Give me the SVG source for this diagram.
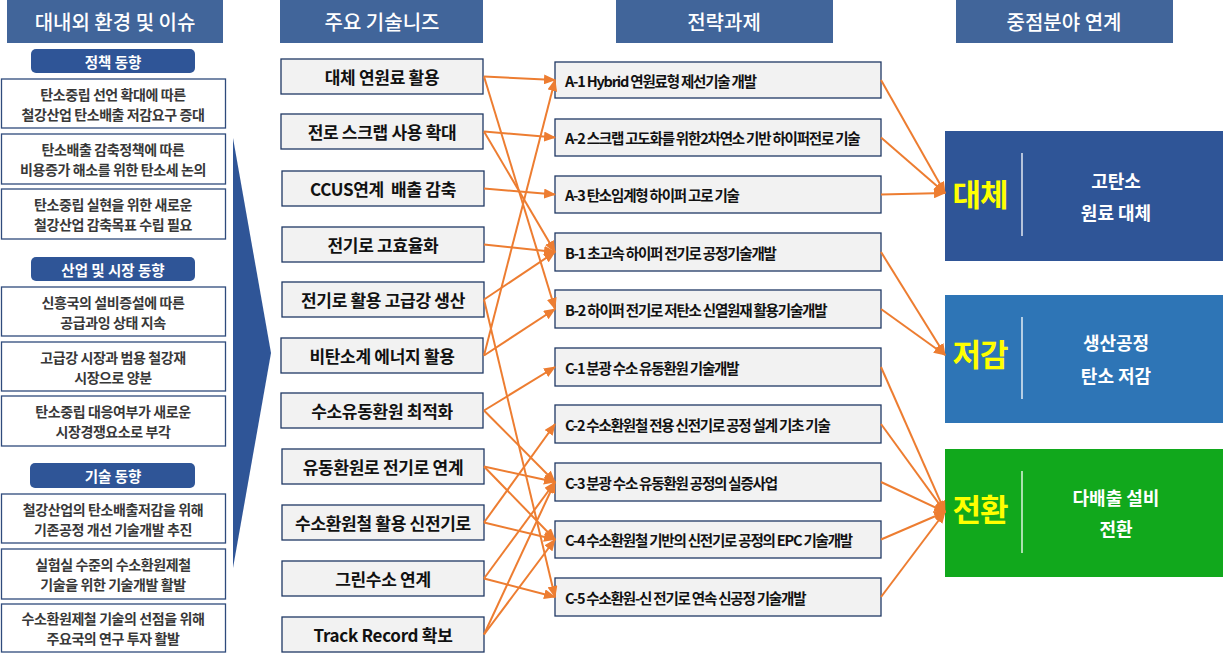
<svg xmlns="http://www.w3.org/2000/svg" width="1225" height="653" viewBox="0 0 1225 653">
<defs>
<marker id="ah" markerUnits="userSpaceOnUse" markerWidth="12" markerHeight="10" refX="11" refY="5" orient="auto">
<path d="M0,0 L12,5 L0,10 z" fill="#ED7D31"/>
</marker>
<style>
text{font-family:"Noto Sans CJK KR","Noto Sans",sans-serif;white-space:pre;}
.hdr{fill:#41659A;}
.hdrt{fill:#fff;font-size:20px;font-weight:500;text-anchor:middle;dominant-baseline:central;}
.sub{fill:#2F5597;}
.subt{fill:#fff;font-size:14.5px;font-weight:700;text-anchor:middle;dominant-baseline:central;}
.lb{fill:#fff;stroke:#2F4B7C;stroke-width:1.3;}
.lt{fill:#383838;font-size:14px;font-weight:700;text-anchor:middle;dominant-baseline:central;letter-spacing:-0.4px;}
.nb{fill:#F2F2F2;stroke:#1F3864;stroke-width:1.3;}
.nt{fill:#111;font-size:17px;font-weight:700;text-anchor:middle;dominant-baseline:central;letter-spacing:-0.3px;}
.tb{fill:#F2F2F2;stroke:#1F3864;stroke-width:1.3;}
.tt{fill:#111;font-size:14.5px;font-weight:700;dominant-baseline:central;letter-spacing:-1.2px;}
.yt{fill:#FFFF00;font-size:31px;font-weight:700;text-anchor:middle;dominant-baseline:central;letter-spacing:-1px;}
.wt{fill:#fff;font-size:18px;font-weight:700;text-anchor:middle;dominant-baseline:central;}
.dv{stroke:#fff;stroke-width:1.3;}
.c{stroke:#ED7D31;stroke-width:2;fill:none;marker-end:url(#ah);}
</style>
</defs>
<rect width="1225" height="653" fill="#fff"/>

<!-- column headers -->
<g id="h1"><rect class="hdr" x="7" y="0" width="216" height="43"/><text class="hdrt" x="115" y="21">대내외 환경 및 이슈</text></g>
<g id="h2"><rect class="hdr" x="280" y="0" width="203" height="43"/><text class="hdrt" x="382" y="21">주요 기술니즈</text></g>
<g id="h3"><rect class="hdr" x="616" y="0" width="217" height="43"/><text class="hdrt" x="724" y="21">전략과제</text></g>
<g id="h4"><rect class="hdr" x="956" y="0" width="217" height="43"/><text class="hdrt" x="1064" y="21">중점분야 연계</text></g>

<!-- left column -->
<g id="s1"><rect class="sub" x="31" y="49" width="164" height="24" rx="5"/><text class="subt" x="113" y="61">정책 동향</text></g>
<g id="l1"><rect class="lb" x="1.5" y="79" width="224" height="49"/><text class="lt" x="113" y="93.5">탄소중립 선언 확대에 따른</text><text class="lt" x="113" y="113.5">철강산업 탄소배출 저감요구 증대</text></g>
<g id="l2"><rect class="lb" x="1.5" y="134" width="224" height="50"/><text class="lt" x="113" y="149">탄소배출 감축정책에 따른</text><text class="lt" x="113" y="169">비용증가 해소를 위한 탄소세 논의</text></g>
<g id="l3"><rect class="lb" x="1.5" y="189" width="224" height="50"/><text class="lt" x="113" y="204">탄소중립 실현을 위한 새로운</text><text class="lt" x="113" y="224">철강산업 감축목표 수립 필요</text></g>
<g id="s2"><rect class="sub" x="31" y="257" width="164" height="24" rx="5"/><text class="subt" x="113" y="269">산업 및 시장 동향</text></g>
<g id="l4"><rect class="lb" x="1.5" y="287" width="224" height="49"/><text class="lt" x="113" y="301.5">신흥국의 설비증설에 따른</text><text class="lt" x="113" y="321.5">공급과잉 상태 지속</text></g>
<g id="l5"><rect class="lb" x="1.5" y="342" width="224" height="49"/><text class="lt" x="113" y="356.5">고급강 시장과 범용 철강재</text><text class="lt" x="113" y="376.5">시장으로 양분</text></g>
<g id="l6"><rect class="lb" x="1.5" y="396" width="224" height="50"/><text class="lt" x="113" y="411">탄소중립 대응여부가 새로운</text><text class="lt" x="113" y="431">시장경쟁요소로 부각</text></g>
<g id="s3"><rect class="sub" x="30" y="463" width="165" height="25" rx="5"/><text class="subt" x="113" y="475">기술 동향</text></g>
<g id="l7"><rect class="lb" x="1.5" y="494" width="224" height="49"/><text class="lt" x="113" y="508.5">철강산업의 탄소배출저감을 위해</text><text class="lt" x="113" y="528.5">기존공정 개선 기술개발 추진</text></g>
<g id="l8"><rect class="lb" x="1.5" y="549" width="224" height="50"/><text class="lt" x="113" y="564">실험실 수준의 수소환원제철</text><text class="lt" x="113" y="584">기술을 위한 기술개발 활발</text></g>
<g id="l9"><rect class="lb" x="1.5" y="604" width="224" height="48"/><text class="lt" x="113" y="618">수소환원제철 기술의 선점을 위해</text><text class="lt" x="113" y="638">주요국의 연구 투자 활발</text></g>

<!-- big chevron -->
<polygon id="chev" points="233,138 271,353 233,568" fill="#2F5597"/>

<!-- column 2 -->
<g id="n1"><rect class="nb" x="281" y="59" width="202" height="35"/><text class="nt" x="382" y="76.5">대체 연원료 활용</text></g>
<g id="n2"><rect class="nb" x="281" y="114" width="202" height="35"/><text class="nt" x="382" y="131.5">전로 스크랩 사용 확대</text></g>
<g id="n3"><rect class="nb" x="282" y="171" width="202" height="35"/><text class="nt" x="383" y="188.5">CCUS연계  배출 감축</text></g>
<g id="n4"><rect class="nb" x="282" y="227" width="202" height="35"/><text class="nt" x="383" y="244.5">전기로 고효율화</text></g>
<g id="n5"><rect class="nb" x="282" y="282" width="202" height="35"/><text class="nt" x="383" y="299.5">전기로 활용 고급강 생산</text></g>
<g id="n6"><rect class="nb" x="281" y="338" width="202" height="35"/><text class="nt" x="382" y="355.5">비탄소계 에너지 활용</text></g>
<g id="n7"><rect class="nb" x="281" y="393" width="202" height="35"/><text class="nt" x="382" y="410.5">수소유동환원 최적화</text></g>
<g id="n8"><rect class="nb" x="282" y="449" width="202" height="35"/><text class="nt" x="383" y="466.5">유동환원로 전기로 연계</text></g>
<g id="n9"><rect class="nb" x="282" y="505" width="202" height="35"/><text class="nt" x="383" y="522.5">수소환원철 활용 신전기로</text></g>
<g id="n10"><rect class="nb" x="282" y="561" width="202" height="35"/><text class="nt" x="383" y="578.5">그린수소 연계</text></g>
<g id="n11"><rect class="nb" x="282" y="617" width="202" height="35"/><text class="nt" x="383" y="634.5">Track Record 확보</text></g>

<!-- column 3 -->
<g id="tA1"><rect class="tb" x="555" y="62" width="326" height="36"/><text class="tt" x="565" y="80">A-1 Hybrid 연원료형 제선기술 개발</text></g>
<g id="tA2"><rect class="tb" x="555" y="119" width="326" height="37"/><text class="tt" x="565" y="137.5">A-2 스크랩 고도화를 위한2차연소 기반 하이퍼전로 기술</text></g>
<g id="tA3"><rect class="tb" x="555" y="176" width="326" height="37"/><text class="tt" x="565" y="194.5">A-3 탄소임계형 하이퍼 고로 기술</text></g>
<g id="tB1"><rect class="tb" x="555" y="233" width="326" height="38"/><text class="tt" x="565" y="252">B-1 초고속 하이퍼 전기로 공정기술개발</text></g>
<g id="tB2"><rect class="tb" x="555" y="290" width="326" height="38"/><text class="tt" x="565" y="309">B-2 하이퍼 전기로 저탄소 신열원재 활용기술개발</text></g>
<g id="tC1"><rect class="tb" x="555" y="348" width="326" height="38"/><text class="tt" x="565" y="367">C-1 분광 수소 유동환원 기술개발</text></g>
<g id="tC2"><rect class="tb" x="555" y="405" width="326" height="38"/><text class="tt" x="565" y="424">C-2 수소환원철 전용 신전기로 공정 설계 기초 기술</text></g>
<g id="tC3"><rect class="tb" x="555" y="463" width="326" height="38"/><text class="tt" x="565" y="482">C-3 분광 수소 유동환원 공정의 실증사업</text></g>
<g id="tC4"><rect class="tb" x="555" y="521" width="326" height="37"/><text class="tt" x="565" y="539.5">C-4 수소환원철 기반의 신전기로 공정의 EPC 기술개발</text></g>
<g id="tC5"><rect class="tb" x="555" y="578" width="326" height="38"/><text class="tt" x="565" y="597">C-5 수소환원-신 전기로 연속 신공정 기술개발</text></g>

<!-- column 4 -->
<g id="f1"><rect x="945" y="131" width="278" height="130" fill="#2F5597"/><line class="dv" x1="1022" y1="153" x2="1022" y2="236"/><text class="yt" x="980" y="192">대체</text><text class="wt" x="1116" y="180">고탄소</text><text class="wt" x="1116" y="212">원료 대체</text></g>
<g id="f2"><rect x="945" y="295" width="278" height="128" fill="#2E75B6"/><line class="dv" x1="1022" y1="317" x2="1022" y2="399"/><text class="yt" x="980" y="352">저감</text><text class="wt" x="1116" y="342">생산공정</text><text class="wt" x="1116" y="375">탄소 저감</text></g>
<g id="f3"><rect x="945" y="449" width="278" height="128" fill="#11A81C"/><line class="dv" x1="1022" y1="471" x2="1022" y2="553"/><text class="yt" x="980" y="507">전환</text><text class="wt" x="1116" y="497">다배출 설비</text><text class="wt" x="1116" y="528">전환</text></g>

<!-- connectors -->
<g id="connectors">
<line class="c" x1="484" y1="76.5" x2="555" y2="80"/>
<line class="c" x1="484" y1="76.5" x2="555" y2="309"/>
<line class="c" x1="484" y1="131.5" x2="555" y2="137.5"/>
<line class="c" x1="484" y1="131.5" x2="555" y2="252"/>
<line class="c" x1="484" y1="188.5" x2="555" y2="194.5"/>
<line class="c" x1="484" y1="244.5" x2="555" y2="252"/>
<line class="c" x1="484" y1="299.5" x2="555" y2="252"/>
<line class="c" x1="484" y1="299.5" x2="555" y2="597"/>
<line class="c" x1="484" y1="355.5" x2="555" y2="80"/>
<line class="c" x1="484" y1="355.5" x2="555" y2="309"/>
<line class="c" x1="484" y1="410.5" x2="555" y2="367"/>
<line class="c" x1="484" y1="410.5" x2="555" y2="482"/>
<line class="c" x1="484" y1="466.5" x2="555" y2="482"/>
<line class="c" x1="484" y1="466.5" x2="555" y2="539.5"/>
<line class="c" x1="484" y1="522.5" x2="555" y2="424"/>
<line class="c" x1="484" y1="522.5" x2="555" y2="539.5"/>
<line class="c" x1="484" y1="578.5" x2="555" y2="482"/>
<line class="c" x1="484" y1="578.5" x2="555" y2="597"/>
<line class="c" x1="484" y1="634.5" x2="555" y2="482"/>
<line class="c" x1="484" y1="634.5" x2="555" y2="539.5"/>

<line class="c" x1="881" y1="80" x2="945" y2="193"/>
<line class="c" x1="881" y1="137.5" x2="945" y2="193"/>
<line class="c" x1="881" y1="194.5" x2="945" y2="193"/>
<line class="c" x1="881" y1="252" x2="945" y2="355"/>
<line class="c" x1="881" y1="309" x2="945" y2="355"/>
<line class="c" x1="881" y1="367" x2="945" y2="512"/>
<line class="c" x1="881" y1="424" x2="945" y2="512"/>
<line class="c" x1="881" y1="482" x2="945" y2="512"/>
<line class="c" x1="881" y1="539.5" x2="945" y2="512"/>
<line class="c" x1="881" y1="597" x2="945" y2="512"/>
</g>
</svg>
